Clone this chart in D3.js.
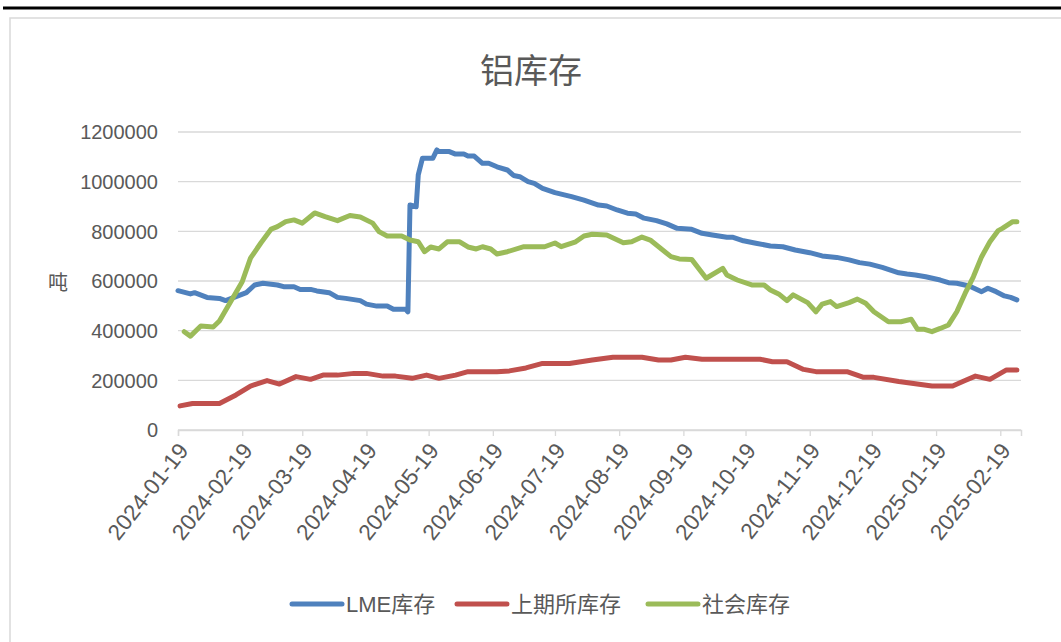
<!DOCTYPE html>
<html><head><meta charset="utf-8">
<script src="https://cdn.jsdelivr.net/npm/d3@7"></script>
<style>body{margin:0;background:#fff;} svg{display:block;}</style>
</head><body>
<svg id="c" width="1061" height="642"></svg>
<script>
const title = "铝库存";
const yLabel = "吨";
const seriesNames = ["LME库存", "上期所库存", "社会库存"];
const seriesColors = ["#4F81BD", "#C0504D", "#9BBB59"];
const xTickLabels = ["2024-01-19","2024-02-19","2024-03-19","2024-04-19","2024-05-19","2024-06-19","2024-07-19","2024-08-19","2024-09-19","2024-10-19","2024-11-19","2024-12-19","2025-01-19","2025-02-19"];
const yTicks = [0, 200000, 400000, 600000, 800000, 1000000, 1200000];

const lmeDates = ["2024-01-19","2024-01-25","2024-01-27","2024-02-02","2024-02-08","2024-02-11","2024-02-16","2024-02-21","2024-02-25","2024-02-29","2024-03-07","2024-03-10","2024-03-15","2024-03-18","2024-03-23","2024-03-26","2024-04-01","2024-04-05","2024-04-09","2024-04-16","2024-04-19","2024-04-24","2024-04-29","2024-05-02","2024-05-08","2024-05-09","2024-05-10","2024-05-13","2024-05-14","2024-05-16","2024-05-21","2024-05-23","2024-05-24","2024-05-29","2024-06-01","2024-06-05","2024-06-07","2024-06-10","2024-06-14","2024-06-17","2024-06-21","2024-06-26","2024-06-29","2024-07-02","2024-07-06","2024-07-09","2024-07-13","2024-07-19","2024-07-27","2024-08-02","2024-08-09","2024-08-13","2024-08-18","2024-08-23","2024-08-27","2024-08-31","2024-09-06","2024-09-11","2024-09-16","2024-09-23","2024-09-28","2024-10-03","2024-10-10","2024-10-13","2024-10-18","2024-10-24","2024-10-31","2024-11-06","2024-11-12","2024-11-19","2024-11-25","2024-12-02","2024-12-08","2024-12-13","2024-12-18","2024-12-24","2025-01-01","2025-01-05","2025-01-09","2025-01-14","2025-01-21","2025-01-25","2025-01-29","2025-02-04","2025-02-10","2025-02-13","2025-02-17","2025-02-21","2025-02-24","2025-02-27"];
const lmeValues = [561000,548000,553000,534000,530000,521000,537000,553000,584000,591000,584000,577000,577000,566000,566000,560000,553000,534000,530000,521000,507000,499000,499000,486000,486000,476000,906000,899000,1027000,1094000,1094000,1128000,1121000,1121000,1111000,1111000,1103000,1103000,1074000,1074000,1060000,1047000,1025000,1020000,1000000,993000,973000,956000,940000,926000,906000,902000,886000,873000,870000,853000,843000,830000,812000,808000,792000,785000,776000,776000,762000,752000,741000,738000,725000,714000,701000,695000,685000,674000,668000,655000,633000,628000,624000,617000,604000,593000,591000,580000,557000,571000,557000,540000,534000,524000];

const shfeDates = ["2024-01-20","2024-01-26","2024-02-08","2024-02-16","2024-02-23","2024-03-02","2024-03-08","2024-03-16","2024-03-23","2024-03-29","2024-04-05","2024-04-13","2024-04-19","2024-04-27","2024-05-03","2024-05-11","2024-05-18","2024-05-24","2024-06-01","2024-06-07","2024-06-21","2024-06-27","2024-07-05","2024-07-13","2024-07-26","2024-08-06","2024-08-16","2024-08-30","2024-09-07","2024-09-13","2024-09-20","2024-09-28","2024-10-26","2024-11-01","2024-11-08","2024-11-16","2024-11-22","2024-12-07","2024-12-15","2024-12-20","2025-01-01","2025-01-17","2025-01-27","2025-02-02","2025-02-07","2025-02-14","2025-02-22","2025-02-27"];
const shfeValues = [97000,107000,107000,141000,177000,199000,185000,215000,204000,221000,221000,228000,228000,217000,217000,208000,221000,208000,221000,235000,235000,238000,250000,268000,268000,282000,293000,293000,282000,282000,293000,285000,285000,275000,275000,244000,235000,235000,212000,212000,195000,177000,177000,199000,217000,204000,242000,242000];

const socialDates = ["2024-01-22","2024-01-25","2024-01-30","2024-02-05","2024-02-08","2024-02-19","2024-02-23","2024-02-28","2024-03-04","2024-03-07","2024-03-11","2024-03-15","2024-03-19","2024-03-25","2024-03-30","2024-04-05","2024-04-11","2024-04-16","2024-04-22","2024-04-25","2024-04-29","2024-05-06","2024-05-10","2024-05-14","2024-05-17","2024-05-20","2024-05-24","2024-05-28","2024-06-03","2024-06-07","2024-06-11","2024-06-14","2024-06-18","2024-06-21","2024-06-26","2024-07-04","2024-07-14","2024-07-19","2024-07-22","2024-07-29","2024-08-02","2024-08-06","2024-08-13","2024-08-21","2024-08-25","2024-08-30","2024-09-03","2024-09-13","2024-09-17","2024-09-23","2024-09-30","2024-10-08","2024-10-10","2024-10-15","2024-10-22","2024-10-28","2024-10-31","2024-11-04","2024-11-08","2024-11-11","2024-11-18","2024-11-22","2024-11-25","2024-11-29","2024-12-02","2024-12-08","2024-12-12","2024-12-16","2024-12-20","2024-12-27","2025-01-02","2025-01-07","2025-01-10","2025-01-13","2025-01-17","2025-01-21","2025-01-25","2025-01-29","2025-02-02","2025-02-06","2025-02-10","2025-02-14","2025-02-18","2025-02-20","2025-02-25","2025-02-27"];
const socialValues = [396000,378000,419000,415000,439000,597000,692000,753000,809000,819000,839000,846000,833000,874000,859000,843000,864000,858000,833000,799000,781000,781000,765000,758000,718000,737000,729000,758000,758000,737000,729000,738000,729000,709000,718000,738000,738000,753000,738000,758000,781000,788000,785000,754000,758000,777000,765000,698000,689000,687000,611000,651000,624000,604000,584000,584000,564000,548000,521000,544000,513000,476000,507000,517000,497000,513000,527000,510000,476000,436000,436000,446000,406000,406000,396000,409000,423000,476000,550000,617000,698000,758000,803000,812000,839000,839000];

const parse = d3.utcParse("%Y-%m-%d");
const series = [
  {name: seriesNames[0], color: seriesColors[0], data: lmeDates.map((d,i)=>({date: parse(d), v: lmeValues[i]}))},
  {name: seriesNames[1], color: seriesColors[1], data: shfeDates.map((d,i)=>({date: parse(d), v: shfeValues[i]}))},
  {name: seriesNames[2], color: seriesColors[2], data: socialDates.map((d,i)=>({date: parse(d), v: socialValues[i]}))}
];

const svg = d3.select("#c");
const font = "'Liberation Sans','Noto Sans CJK SC',sans-serif";
const txt = "#595959";

// frame
svg.append("rect").attr("x",10).attr("y",18).attr("width",1070).attr("height",640)
  .attr("fill","none").attr("stroke","#d9d9d9").attr("stroke-width",1.5);
svg.append("line").attr("x1",3).attr("x2",1061).attr("y1",8).attr("y2",8)
  .attr("stroke","#000").attr("stroke-width",3);

const x = d3.scaleUtc().domain([parse("2024-01-19"), parse("2025-03-01")]).range([178, 1021]);
const y = d3.scaleLinear().domain([0, 1200000]).range([430, 132]);

// gridlines
svg.append("g").selectAll("line").data(yTicks).join("line")
  .attr("x1",178).attr("x2",1021).attr("y1",d=>y(d)).attr("y2",d=>y(d))
  .attr("stroke","#d9d9d9").attr("stroke-width",1.3);

// y labels
svg.append("g").selectAll("text").data(yTicks).join("text")
  .attr("x",158).attr("y",d=>y(d)).attr("dy","0.36em")
  .attr("text-anchor","end").attr("font-family",font).attr("font-size",20).attr("fill",txt)
  .text(d=>d3.format("d")(d));

// x axis
const xAxis = d3.axisBottom(x).tickValues(xTickLabels.map(parse)).tickSize(6).tickFormat("");
const gx = svg.append("g").attr("transform","translate(0,430)").call(xAxis);
gx.select(".domain").attr("stroke","#d9d9d9").attr("stroke-width",1.5);
gx.selectAll(".tick line").attr("stroke","#d9d9d9").attr("stroke-width",1.3);

svg.append("g").selectAll("text").data(xTickLabels).join("text")
  .attr("transform",d=>`translate(${x(parse(d))+5},${446}) rotate(-52)`)
  .attr("text-anchor","end").attr("dy","0.36em")
  .attr("font-family",font).attr("font-size",22.5).attr("fill",txt)
  .text(d=>d);

// lines
const line = d3.line().x(d=>x(d.date)).y(d=>y(d.v));
svg.append("g").selectAll("path").data(series).join("path")
  .attr("d",d=>line(d.data)).attr("fill","none").attr("stroke",d=>d.color)
  .attr("stroke-width",5).attr("stroke-linejoin","round").attr("stroke-linecap","round");

// title
svg.append("text").attr("x",531).attr("y",83).attr("text-anchor","middle")
  .attr("font-family",font).attr("font-size",34).attr("fill",txt).text(title);

// y label
svg.append("text").attr("x",58).attr("y",283).attr("dy","0.36em").attr("text-anchor","middle")
  .attr("font-family",font).attr("font-size",20).attr("fill",txt).text(yLabel);

// legend
const legendX = [292, 457, 648];
const lg = svg.append("g").selectAll("g").data(series).join("g")
  .attr("transform",(d,i)=>`translate(${legendX[i]},604)`);
lg.append("line").attr("x1",0).attr("x2",50).attr("y1",0).attr("y2",0)
  .attr("stroke",d=>d.color).attr("stroke-width",5).attr("stroke-linecap","round");
lg.append("text").attr("x",54).attr("y",0).attr("dy","0.36em")
  .attr("font-family",font).attr("font-size",22).attr("fill",txt).text(d=>d.name);
</script>
</body></html>
